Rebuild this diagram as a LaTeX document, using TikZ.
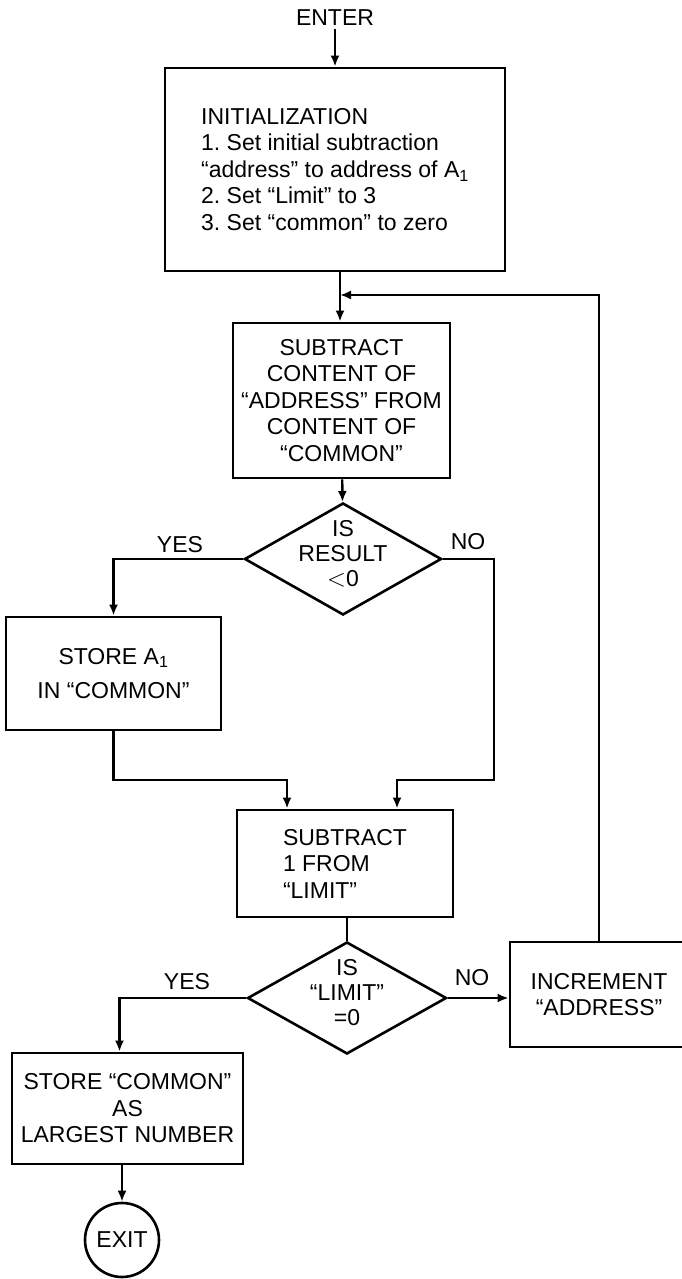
\documentclass[tikz,border=0pt]{standalone}
\usepackage{fontspec}
\setmainfont{Liberation Sans}
\usetikzlibrary{shapes.geometric,arrows.meta}
\definecolor{drawColor}{RGB}{0,0,0}
\definecolor{fillColor}{RGB}{255,255,255}
\newcommand{\dtext}[1]{\makebox[0pt]{\smash{\raisebox{-4pt}{\begin{tabular}{@{}c@{}}#1\end{tabular}}}}}
\frenchspacing

\begin{document}
\begin{tikzpicture}[x=1pt,y=1pt,
  txt/.style={text=drawColor,font=\fontsize{23}{26.5}\selectfont},
  box/.style={txt,draw=drawColor,line width=2.8pt,inner sep=2pt,rectangle,align=center},
  decision/.style={txt,draw=drawColor,line width=2.6pt,diamond,inner sep=0pt,font=\fontsize{23}{25}\selectfont},
  term/.style={txt,draw=drawColor,line width=2.6pt,circle,inner sep=0pt,minimum size=74pt},
  arr/.style={draw=drawColor,line width=2.4pt,-{Latex[length=11pt,width=9pt]}},
  line/.style={draw=drawColor,line width=2.4pt}]
\path[use as bounding box,fill=fillColor] (0,0) rectangle (682,1279);

% nodes
\node[txt] (enter) at (335,1261) {ENTER};

\node[box,align=left,minimum width=340pt,minimum height=203pt] (init) at (335,1109.5) {INITIALIZATION\\
1. Set initial subtraction\\
``address'' to address of A\textsubscript{1}\\
2. Set ``Limit'' to 3\\
3. Set ``common'' to zero};

\node[box,minimum width=217pt,minimum height=155pt] (sub1) at (341.5,878.5) {SUBTRACT\\CONTENT OF\\``ADDRESS'' FROM\\CONTENT OF\\``COMMON''};

\node[decision,minimum width=197pt,minimum height=112pt] (dec1) at (343,720) {\dtext{IS\\RESULT\\$<$0}};

\node[box,minimum width=215pt,minimum height=113pt] (storeA) at (113.5,605.5) {STORE A\textsubscript{1}\\[8pt]IN ``COMMON''};

\node[box,align=left,minimum width=216pt,minimum height=107pt] (sub2) at (345,415.5) {SUBTRACT\\1 FROM\\``LIMIT''};

\node[decision,minimum width=199pt,minimum height=112pt] (dec2) at (347,281) {\dtext{IS\\``LIMIT''\\=0}};

\node[box,minimum width=178pt,minimum height=105pt] (incr) at (599,284.5) {INCREMENT\\``ADDRESS''};

\node[box,minimum width=231pt,minimum height=111pt] (storeC) at (127.5,170.5) {STORE ``COMMON''\\AS\\LARGEST NUMBER};

\node[term] (exit) at (122,39) {EXIT};

% branch labels
\node[txt] (yes1) at (180,734) {YES};
\node[txt] (no1) at (468,737) {NO};
\node[txt] (yes2) at (187,297) {YES};
\node[txt] (no2) at (472,301) {NO};

% junctions
\coordinate (join) at (340,984);
\coordinate (noA) at (494,499);
\coordinate (yesA) at (113.5,499);

% connectors
\path[arr] (enter) -- (init);
\path[line] (init.south -| join) -- (join);
\path[arr] (join) -- (join |- sub1.north);
\path[arr] (incr.north) |- (join);
\path[arr] (sub1) -- (dec1);
\path[arr] (dec1.west) -| (storeA.north);
\path[arr] (dec1.east) -| (noA) -| ([xshift=52pt]sub2.north);
\path[arr] (storeA.south) -- (yesA) -| ([xshift=-58pt]sub2.north);
\path[line] (sub2.south -| dec2.north) -- (dec2.north);
\path[arr] (dec2.east) -- (dec2.east -| incr.west);
\path[arr] (dec2.west) -| ([xshift=-8pt]storeC.north);
\path[arr] (storeC.south -| exit.north) -- (exit.north);
\end{tikzpicture}
\end{document}
